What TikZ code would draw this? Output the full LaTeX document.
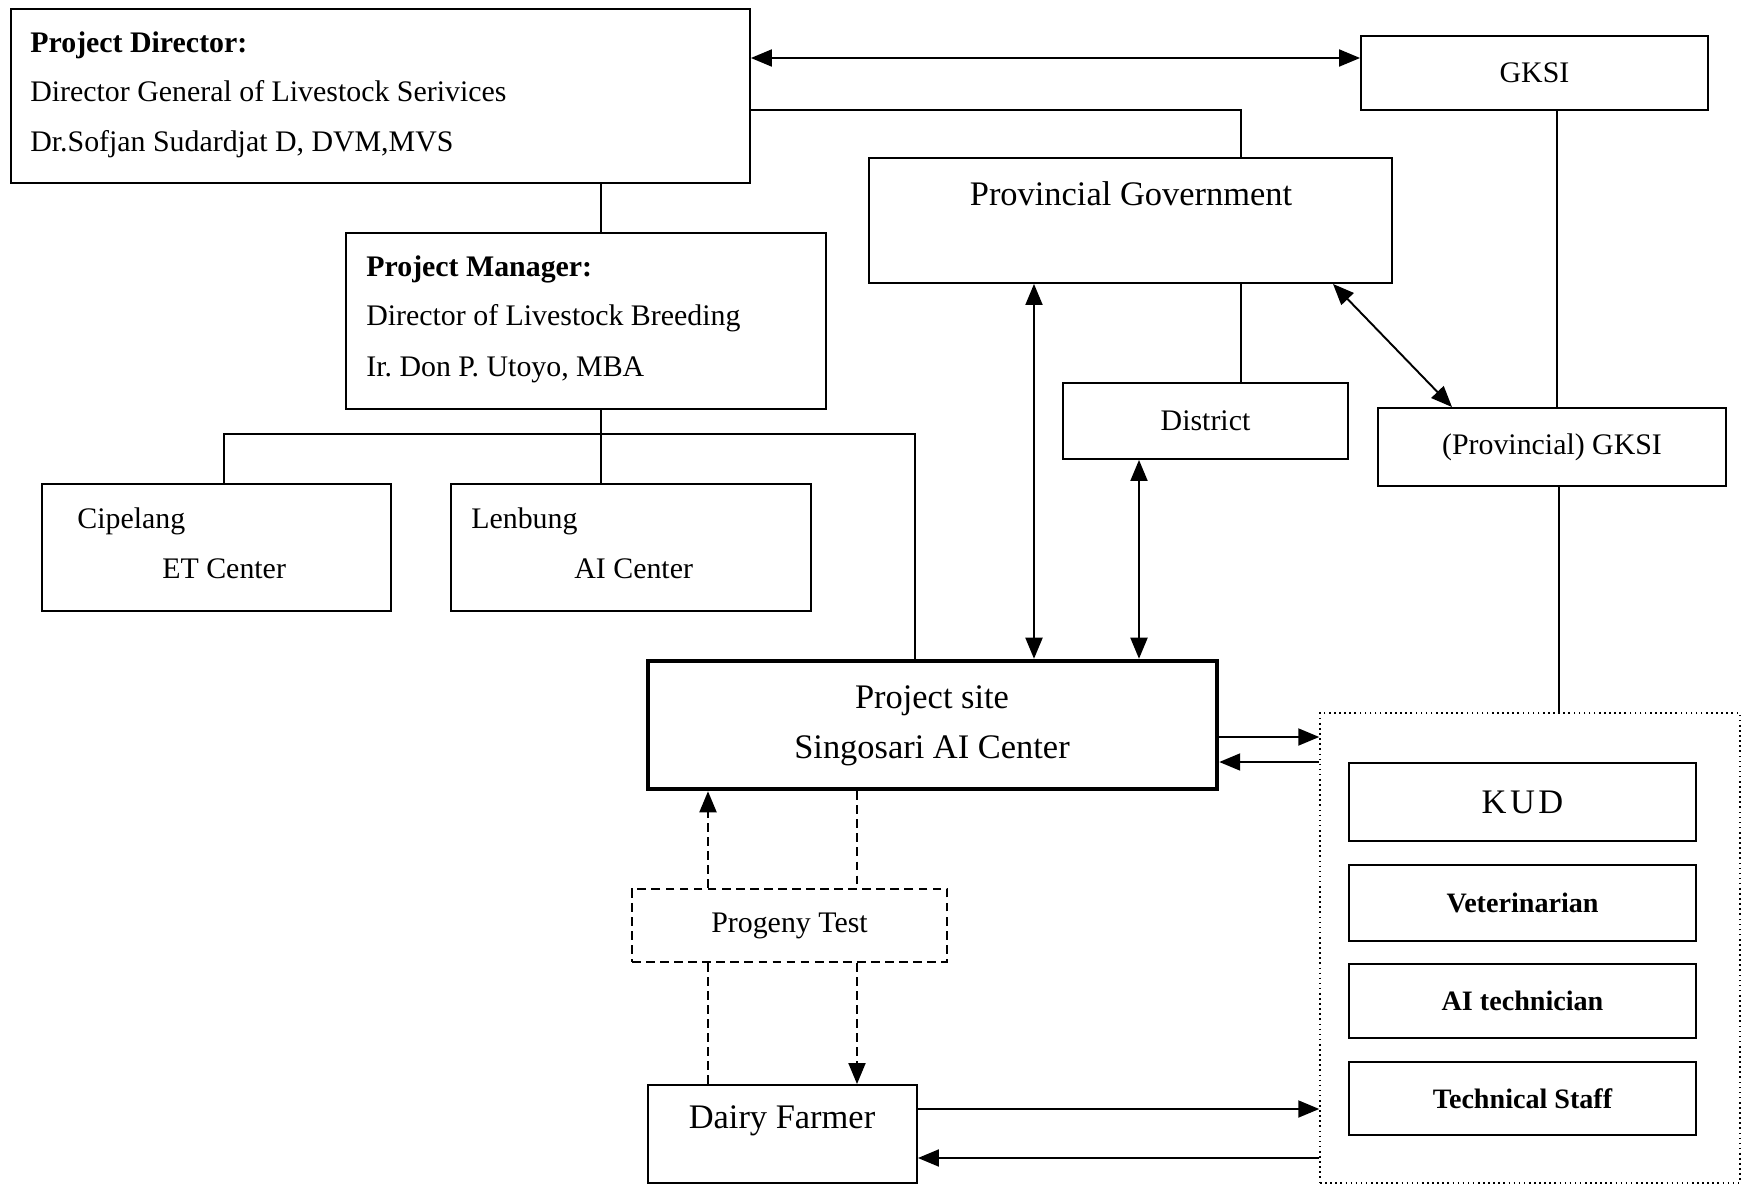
\documentclass[tikz,border=0pt]{standalone}
\usepackage{fontspec}
\setmainfont{Liberation Serif}
\usetikzlibrary{arrows.meta}
\newcommand{\nsz}{\fontsize{17}{20}\selectfont}
\newcommand{\bsz}{\fontsize{19.6}{23}\selectfont}
\newcommand{\ssz}{\fontsize{16}{19}\selectfont\bfseries}

\begin{document}
\begin{tikzpicture}[x=0.02cm, y=-0.02cm,
  >={Triangle[length=0.42cm,width=0.34cm]},
  box/.style={draw, line width=1.1pt, inner sep=0pt, font=\nsz},
  txt/.style={inner sep=0pt, anchor=base west, font=\nsz},
  link/.style={line width=1.1pt},
  dashline/.style={line width=1.1pt, dash pattern=on 5pt off 3pt}]
\useasboundingbox (0,0) rectangle (1742,1186);
% boxes
\node [box, minimum width=14.78cm, minimum height=3.48cm] (pd) at (380.5,96) {};
\node [txt, font=\nsz\bfseries] (pdhead) at (30,53) {Project Director:};
\node [txt] (pdrole) at (30,102) {Director General of Livestock Serivices};
\node [txt] (pdname) at (30,152) {Dr.Sofjan Sudardjat D, DVM,MVS};
\node [box, minimum width=6.94cm, minimum height=1.48cm] (gksi) at (1534.5,73) {GKSI};
\node [box, minimum width=10.46cm, minimum height=2.5cm] (pg) at (1130.5,220.5) {};
\node [txt, anchor=base, font=\bsz] (pgtxt) at (1131,205) {Provincial Government};
\node [box, minimum width=9.6cm, minimum height=3.52cm] (pm) at (586,321) {};
\node [txt, font=\nsz\bfseries] (pmhead) at (366,276) {Project Manager:};
\node [txt] (pmrole) at (366,325) {Director of Livestock Breeding};
\node [txt] (pmname) at (366,376) {Ir.\ Don P. Utoyo, MBA};
\node [box, minimum width=5.7cm, minimum height=1.52cm] (dist) at (1205.5,421) {District};
\node [box, minimum width=6.96cm, minimum height=1.56cm] (pgksi) at (1552,447) {(Provincial) GKSI};
\node [box, minimum width=6.98cm, minimum height=2.54cm] (cip) at (216.5,547.5) {};
\node [txt] (ciptop) at (77,528) {Cipelang};
\node [txt] (cipbot) at (162,578) {ET Center};
\node [box, minimum width=7.2cm, minimum height=2.54cm] (len) at (631,547.5) {};
\node [txt] (lentop) at (471,528) {Lenbung};
\node [txt] (lenbot) at (574,578) {AI Center};
\node [box, line width=2.6pt, minimum width=11.38cm, minimum height=2.56cm] (site) at (932.5,725) {};
\node [txt, anchor=base, font=\bsz] (sitetop) at (932,708) {Project site};
\node [txt, anchor=base, font=\bsz] (sitebot) at (932,758) {Singosari AI Center};
\node [draw, dotted, line width=0.9pt, inner sep=0pt, minimum width=8.4cm, minimum height=9.4cm] (grp) at (1530,948) {};
\node [box, font=\bsz, minimum width=6.94cm, minimum height=1.56cm] (kud) at (1522.5,802) {K\kern2pt U\kern2pt D};
\node [box, font=\ssz, minimum width=6.94cm, minimum height=1.52cm] (vet) at (1522.5,903) {Veterinarian};
\node [box, font=\ssz, minimum width=6.94cm, minimum height=1.48cm] (aitech) at (1522.5,1001) {AI technician};
\node [box, font=\ssz, minimum width=6.94cm, minimum height=1.46cm] (staff) at (1522.5,1098.5) {Technical Staff};
\node [box, dash pattern=on 5pt off 3pt, minimum width=6.3cm, minimum height=1.46cm] (prog) at (789.5,925.5) {Progeny Test};
\node [box, minimum width=5.38cm, minimum height=1.96cm] (farm) at (782.5,1134) {};
\node [txt, anchor=base, font=\bsz] (farmtxt) at (782,1128) {Dairy Farmer};
% connectors
\coordinate (split) at (601,434);
\draw [link, <->] (pd.east |- 0,58) -- (gksi.west |- 0,58);
\draw [link] (pd.east |- 0,110) -| (pg.north -| 1241,0);
\draw [link] (pg.south -| 1241,0) -- (dist.north -| 1241,0);
\draw [link] (gksi.south -| 1557,0) -- (pgksi.north -| 1557,0);
\draw [link] (pgksi.south -| 1559,0) -- (grp.north -| 1559,0);
\draw [link] (pd.south -| 601,0) -- (pm.north -| 601,0);
\draw [link] (pm.south -| 601,0) -- (len.north -| 601,0);
\draw [link] (cip.north -| 224,0) |- (split) -| (site.north -| 915,0);
\draw [link, <->] (pg.south -| 1034,0) -- (site.north -| 1034,0);
\draw [link, <->] (dist.south -| 1139,0) -- (site.north -| 1139,0);
\draw [link, <->] (pg.south -| 1333,0) -- (pgksi.north -| 1452,0);
\draw [link, ->] (site.east |- 0,737) -- (grp.west |- 0,737);
\draw [link, <-] (site.east |- 0,762) -- (grp.west |- 0,762);
\draw [link, ->] (farm.east |- 0,1109) -- (grp.west |- 0,1109);
\draw [link, <-] (farm.east |- 0,1158) -- (grp.west |- 0,1158);
\draw [dashline] (farm.north -| 708,0) -- (prog.south -| 708,0);
\draw [dashline, ->] (prog.north -| 708,0) -- (site.south -| 708,0);
\draw [dashline] (site.south -| 857,0) -- (prog.north -| 857,0);
\draw [dashline, ->] (prog.south -| 857,0) -- (farm.north -| 857,0);
\end{tikzpicture}
\end{document}
